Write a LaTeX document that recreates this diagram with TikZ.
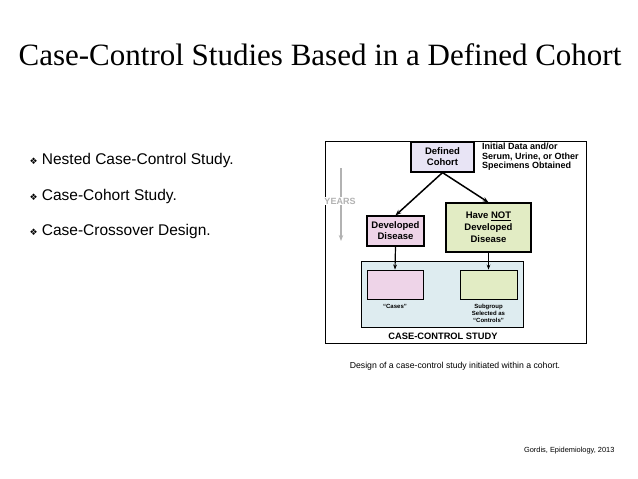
\documentclass[tikz,border=0pt]{standalone}
\usepackage{fontspec}
\setmainfont{Liberation Serif}
\setsansfont{Liberation Sans}
\newfontfamily\symfont{DejaVu Sans}
\usetikzlibrary{positioning, arrows.meta}
\definecolor{cohortfill}{RGB}{232,228,245}
\definecolor{casefill}{RGB}{238,212,232}
\definecolor{ctrlfill}{RGB}{226,236,196}
\definecolor{studyfill}{RGB}{222,236,240}
\begin{document}
\begin{tikzpicture}[x=1pt,y=-1pt]
    \tikzset{
        box/.style={draw, line width=1.2pt, font=\sffamily\bfseries\fontsize{9.5}{11}\selectfont, align=center, inner sep=0pt}, % figure boxes
        note/.style={font=\sffamily\bfseries\fontsize{6}{7}\selectfont, align=center}, % small labels
        bul/.style={anchor=west, font=\sffamily\fontsize{15.5}{18}\selectfont}, % bullet lines
        arr/.style={-{Stealth[length=6pt]}, line width=1.5pt}, % connectors
        }
    \useasboundingbox (0,0) rectangle (638,479);

    % title and bullets
    \node[font=\fontsize{31}{34}\selectfont] (title) at (320,55) {Case-Control Studies Based in a Defined Cohort};
    \node[bul] (b1) at (26,160) {{\symfont\fontsize{9}{10}\selectfont ❖} Nested Case-Control Study.};
    \node[bul] (b2) at (26,196) {{\symfont\fontsize{9}{10}\selectfont ❖} Case-Cohort Study.};
    \node[bul] (b3) at (26,231) {{\symfont\fontsize{9}{10}\selectfont ❖} Case-Crossover Design.};

    % figure frame
    \draw[line width=0.9pt] (325,141) rectangle (586,343);
    \node[draw, fill=studyfill, line width=0.9pt, minimum width=162pt, minimum height=66pt] (study) at (442,294) {};
    \node[box, fill=cohortfill, minimum width=63pt, minimum height=30pt] (cohort) at (442.5,157) {Defined\\Cohort};
    \node[note, anchor=north west, align=left, inner sep=0pt, font=\sffamily\bfseries\fontsize{9}{9.5}\selectfont] (initial) at (482,143) {Initial Data and/or\\Serum, Urine, or Other\\Specimens Obtained};
    \node[box, fill=casefill, minimum width=57pt, minimum height=30pt] (developed) at (395.5,231) {Developed\\Disease};
    \node[box, fill=ctrlfill, minimum width=85pt, minimum height=49pt, font=\sffamily\bfseries\fontsize{9.5}{12}\selectfont] (notdev) at (488.5,227.5) {Have \underline{NOT}\\Developed\\Disease};
    \node[draw, fill=casefill, line width=0.9pt, minimum width=56pt, minimum height=29pt] (cases) at (395,284.5) {};
    \node[draw, fill=ctrlfill, line width=0.9pt, minimum width=57pt, minimum height=29pt] (controls) at (488.5,284.5) {};
    \node[note, below=1pt of cases] (caselbl) {``Cases''};
    \node[note, below=1pt of controls] (ctrllbl) {Subgroup\\Selected as\\``Controls''};
    \node[note, font=\sffamily\bfseries\fontsize{9.3}{10}\selectfont] (studylbl) at (443,336) {CASE-CONTROL STUDY};

    % years axis
    \coordinate (ytop) at (341,168);
    \coordinate (ybot) at (341,241);
    \draw[-{Stealth[length=6pt]}, line width=1.4pt, gray!60] (ytop) -- (ybot);
    \node[note, fill=white, inner sep=1pt, text=gray!60, font=\sffamily\bfseries\fontsize{9}{10}\selectfont] (years) at (340,201) {YEARS};

    % connectors
    \draw[arr] (cohort.south) -- (developed.north);
    \draw[arr] (cohort.south) -- (notdev.north);
    \draw[-{Stealth[length=5pt]}, line width=1.2pt] (developed.south) -- (cases.north);
    \draw[-{Stealth[length=5pt]}, line width=1.2pt] (notdev.south) -- (controls.north);

    % captions
    \node[font=\sffamily\fontsize{8.7}{10}\selectfont] (caption) at (455,366) {Design of a case-control study initiated within a cohort.};
    \node[font=\sffamily\fontsize{7.4}{9}\selectfont, anchor=east] (source) at (618,451) {Gordis, Epidemiology, 2013};
\end{tikzpicture}
\end{document}
